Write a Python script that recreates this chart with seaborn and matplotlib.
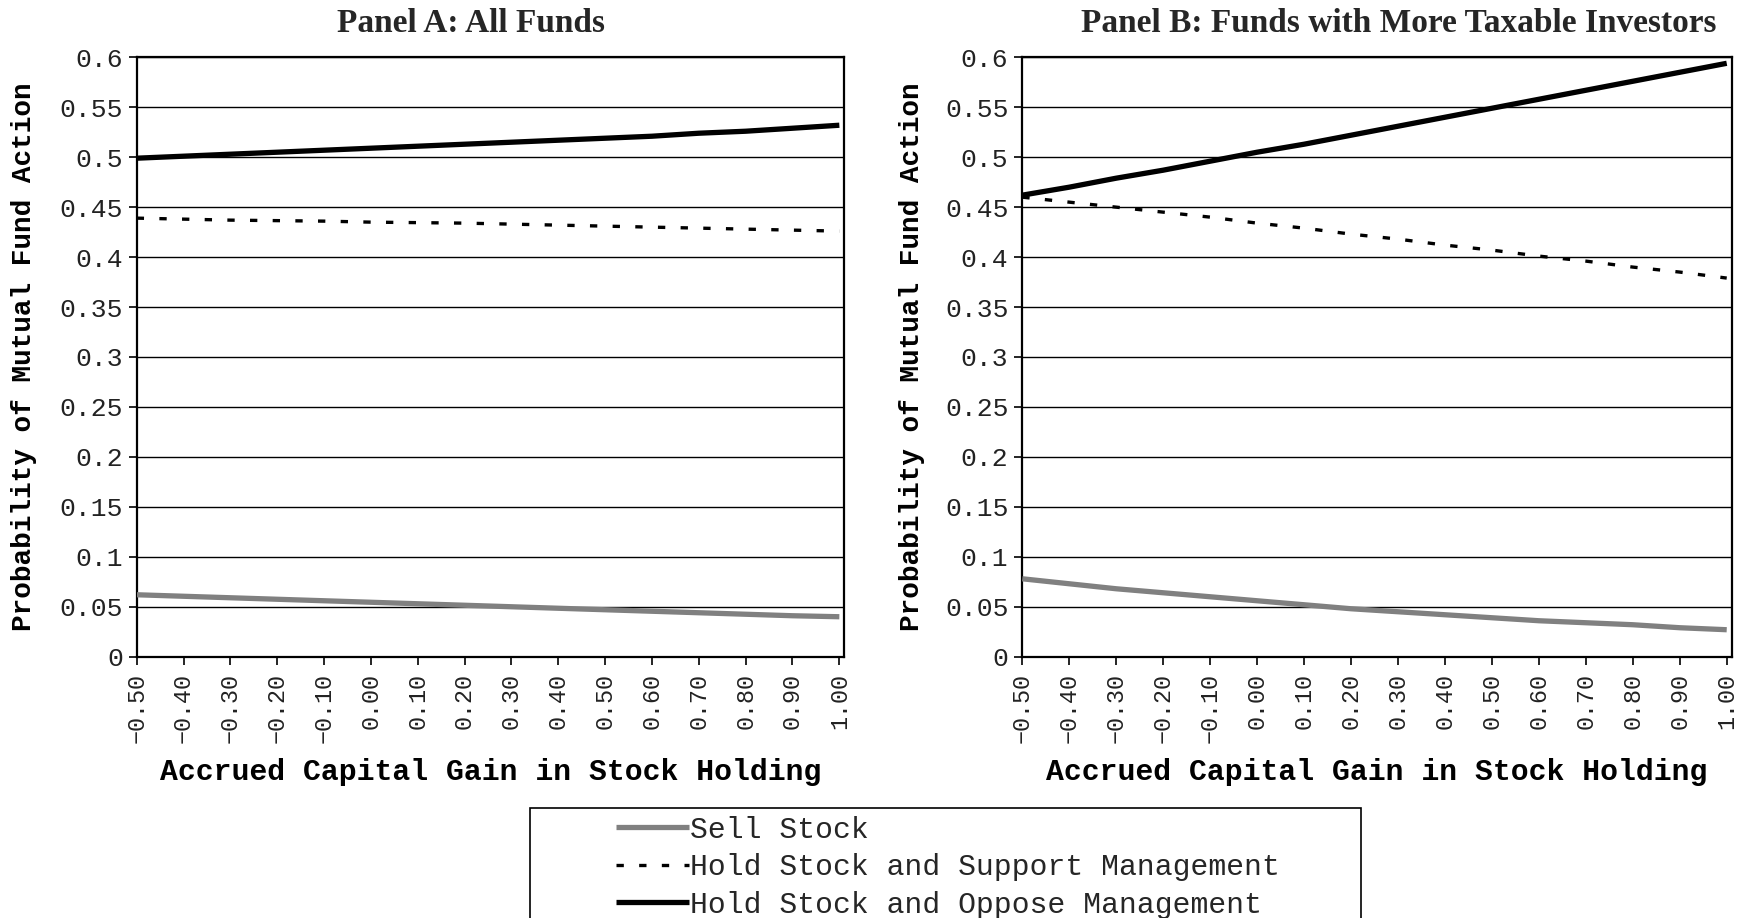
import numpy as np
import pandas as pd
import matplotlib
matplotlib.use('Agg')
import matplotlib.pyplot as plt
from matplotlib.patches import Rectangle
from matplotlib.ticker import FixedLocator
import seaborn as sns

# accrued capital gain grid (x axis)
gain = [-0.50, -0.40, -0.30, -0.20, -0.10, 0.00, 0.10, 0.20,
        0.30, 0.40, 0.50, 0.60, 0.70, 0.80, 0.90, 1.00]
gain_labels = ['\u22120.50', '\u22120.40', '\u22120.30', '\u22120.20', '\u22120.10',
               '0.00', '0.10', '0.20', '0.30', '0.40', '0.50', '0.60',
               '0.70', '0.80', '0.90', '1.00']

# Panel A: all funds
a_sell = [0.062, 0.0605, 0.059, 0.0575, 0.056, 0.0545, 0.053, 0.0515,
          0.050, 0.0485, 0.047, 0.0455, 0.044, 0.0425, 0.041, 0.040]
a_support = [0.439, 0.438, 0.437, 0.4365, 0.436, 0.435, 0.4345, 0.434,
             0.433, 0.432, 0.431, 0.430, 0.429, 0.428, 0.427, 0.426]
a_oppose = [0.499, 0.501, 0.503, 0.505, 0.507, 0.509, 0.511, 0.513,
            0.515, 0.517, 0.519, 0.521, 0.524, 0.526, 0.529, 0.532]

# Panel B: funds with more taxable investors
b_sell = [0.078, 0.073, 0.068, 0.064, 0.060, 0.056, 0.052, 0.048,
          0.045, 0.042, 0.039, 0.036, 0.034, 0.032, 0.029, 0.027]
b_support = [0.460, 0.455, 0.450, 0.445, 0.440, 0.434, 0.429, 0.423,
             0.418, 0.412, 0.407, 0.401, 0.396, 0.390, 0.385, 0.379]
b_oppose = [0.462, 0.470, 0.479, 0.487, 0.496, 0.505, 0.513, 0.522,
            0.531, 0.540, 0.549, 0.558, 0.567, 0.576, 0.585, 0.594]

series_names = ['Sell Stock', 'Hold Stock and Support Management',
                'Hold Stock and Oppose Management']
panel_titles = ['Panel A: All Funds', 'Panel B: Funds with More Taxable Investors']
y_ticks = [0, 0.05, 0.1, 0.15, 0.2, 0.25, 0.3, 0.35, 0.4, 0.45, 0.5, 0.55, 0.6]
y_labels = ['0', '0.05', '0.1', '0.15', '0.2', '0.25', '0.3', '0.35',
            '0.4', '0.45', '0.5', '0.55', '0.6']

sns.set_style('white')
plt.rcParams['font.family'] = ['Liberation Mono', 'DejaVu Sans Mono']

W, H = 1742, 918
fig = plt.figure(figsize=(W / 100, H / 100), dpi=100)

styles = [dict(color='#808080', lw=3.8, ls='-'),
          dict(color='black', lw=2.4, ls=(0, (2.2, 4.6))),
          dict(color='black', lw=3.8, ls='-')]

panels = [(a_sell, a_support, a_oppose), (b_sell, b_support, b_oppose)]
lefts = [136.7, 1022.3]
widths = [707.6, 709.4]
title_x = [471, 1399]
ylab_x = [24.5, 912]
top, bottom = 57.3, 656.7

for i, data in enumerate(panels):
    ax = fig.add_axes([lefts[i] / W, 1 - bottom / H, widths[i] / W, (bottom - top) / H])
    df = pd.DataFrame({'gain': gain * 3,
                       'prob': list(data[0]) + list(data[1]) + list(data[2]),
                       'series': sum([[n] * len(gain) for n in series_names], [])})
    for name, st in zip(series_names, styles):
        sub = df[df['series'] == name]
        sns.lineplot(data=sub, x='gain', y='prob', ax=ax, color=st['color'],
                     lw=st['lw'], ls=st['ls'], label=name, legend=False,
                     solid_capstyle='butt', dash_capstyle='butt', zorder=3)
    ax.set_xlim(-0.5, 1.0106)
    ax.set_ylim(0, 0.6)
    ax.xaxis.set_major_locator(FixedLocator(gain))
    ax.set_xticklabels(gain_labels, rotation=90, fontsize=16.8)
    ax.set_yticks(y_ticks)
    ax.set_yticklabels(y_labels, fontsize=19)
    ax.grid(axis='y', color='black', lw=1.0)
    ax.set_axisbelow(True)
    for s in ax.spines.values():
        s.set_color('black')
        s.set_linewidth(1.6)
    ax.tick_params(axis='both', direction='out', length=6, width=1.2,
                   color='black', labelcolor='#222222', bottom=True, left=True)
    ax.tick_params(axis='x', pad=6)
    ax.tick_params(axis='y', pad=4)
    ax.set_xlabel('Accrued Capital Gain in Stock Holding', fontsize=21.4,
                  fontweight='bold', color='black')
    ax.xaxis.set_label_coords(0.5, -(772 - bottom) / (bottom - top))
    ax.xaxis.label.set_va('center')
    ax.set_ylabel('Probability of Mutual Fund Action', fontsize=20,
                  fontweight='bold', color='black')
    ax.yaxis.set_label_coords((ylab_x[i] - lefts[i]) / widths[i], 0.5)
    ax.yaxis.label.set_va('center')
    fig.text(title_x[i] / W, 1 - 24 / H, panel_titles[i], ha='center', va='center',
             fontsize=24, fontweight='bold', family='Liberation Serif')
    if i == 0:
        handles, labels = ax.get_legend_handles_labels()

# legend box, cut by the bottom of the figure
fig.patches.append(Rectangle((530 / W, -0.05), 831 / W, 1 - 807.7 / H + 0.05,
                             transform=fig.transFigure, fill=False,
                             edgecolor='black', lw=1.2))
fig.legend(handles, labels, loc='upper left', bbox_to_anchor=(601 / W, 1 - 801 / H),
           frameon=False, fontsize=21.4, handlelength=2.45, handletextpad=0.05,
           labelspacing=0.32, borderpad=0)

fig.savefig('out.png', dpi=100)
